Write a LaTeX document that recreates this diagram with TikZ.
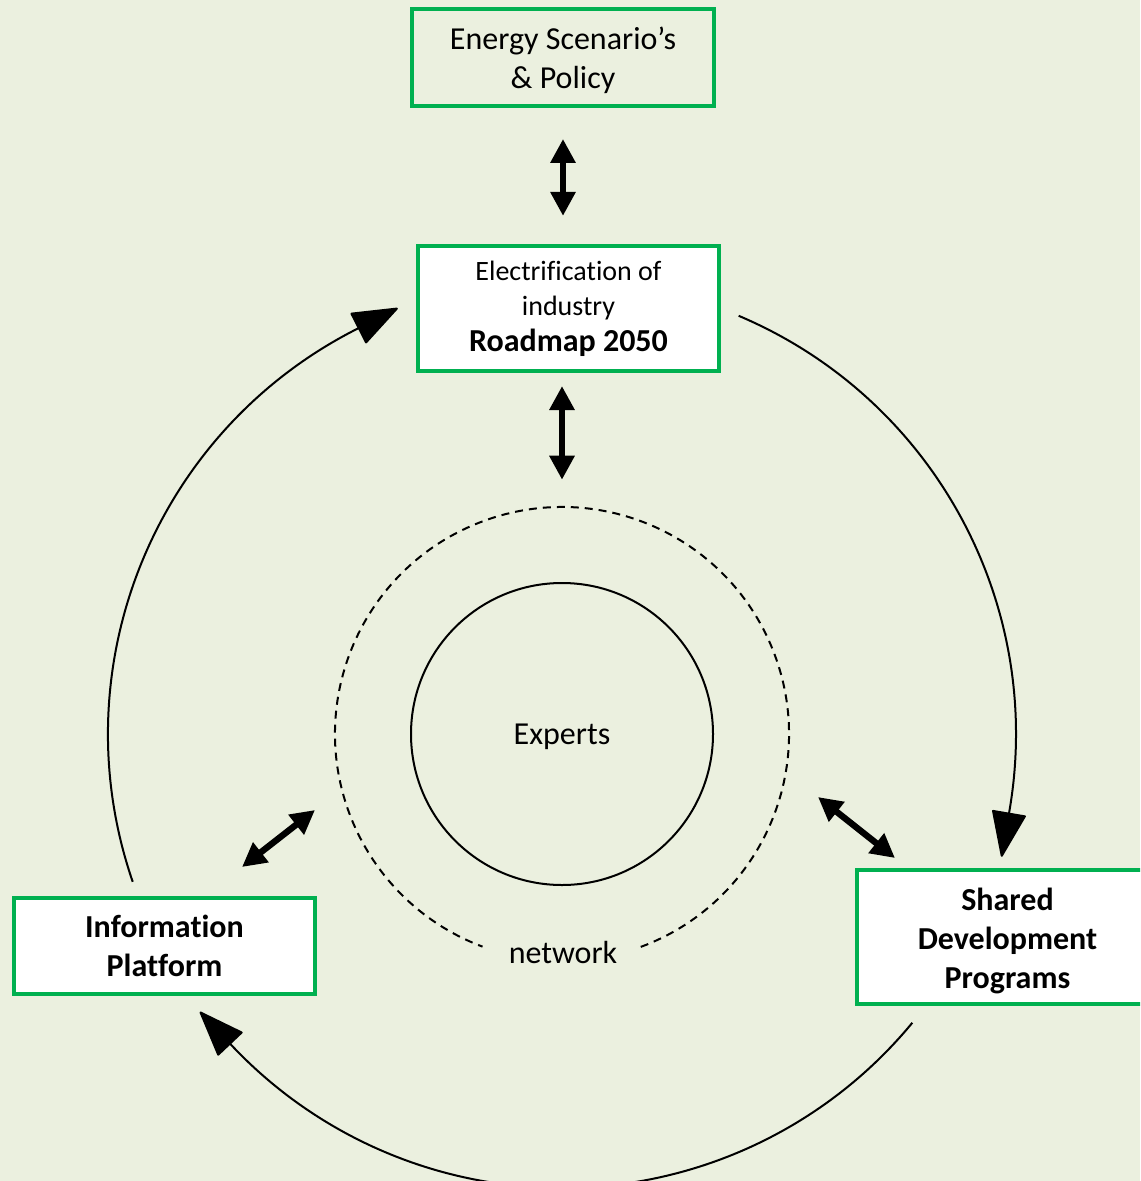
\documentclass[tikz,border=0pt]{standalone}
\usepackage{fontspec}
\setmainfont{Carlito}[Ligatures={NoCommon}]
\usetikzlibrary{arrows.meta}
\definecolor{bg}{HTML}{EBF0DF}
\definecolor{grn}{HTML}{00B050}
\begin{document}
\begin{tikzpicture}[x=0.75pt,y=0.75pt,
  every node/.style={font=\fontsize{24}{29.25}\selectfont, align=center, inner sep=0pt},
  box/.style={draw=grn, line width=3pt, minimum width=226pt},
  bigtip/.style={-{Triangle[length=35pt,width=26pt,round]}},
  cyc/.style={line width=1.5pt, bigtip},
  dbl/.style={line width=4.8pt, {Triangle[length=18pt,width=18pt]}-{Triangle[length=18pt,width=18pt]}},
  netline/.style={line width=1.5pt, dash pattern=on 6pt off 4.5pt}
]
\path[use as bounding box, fill=bg] (0,0) rectangle (1140,-1181);
\clip (0,0) rectangle (1140,-1181);

% boxes
\node[box, minimum height=72pt,
  label={[yshift=-1.9pt]center:{Energy Scenario’s\\\& Policy}}] (energy) at (563,-57.5) {};
\node[box, fill=white, minimum height=93.5pt, font=\fontsize{21}{26}\selectfont] (roadmap) at (568.5,-308.5)
  {Electrification of\\industry\\[1pt]{\fontsize{24}{27}\selectfont\bfseries Roadmap 2050}};
\node[box, fill=white, minimum height=72pt, font=\fontsize{24}{29.25}\selectfont\bfseries] (info) at (164.5,-946) {Information\\Platform};
\node[box, fill=white, minimum height=100.5pt,
  label={[yshift=-3pt, font=\fontsize{24}{29.25}\selectfont\bfseries]center:{Shared\\Development\\Programs}}] (shared) at (1007.5,-937) {};

% centre circles
\coordinate (c) at (562,-734);
\node[circle, draw, line width=1.5pt, minimum size=226.5pt,
  label={[yshift=-2.2pt]center:Experts}] (experts) at (c) {};
\node[circle, minimum size=340.5pt] (net) at (c) {};
\draw[netline] (c) ++(-69.7:227) arc[start angle=-69.7, end angle=249.5, radius=227];
\node (netlabel) at (563,-952) {network};

% cycle arcs (clockwise), tip aligned with the tangent at its point
\draw[cyc] (c) ++(67.1:454) arc[start angle=67.1, end angle=-9.7, radius=454] -- ++(-99.7:47);
\draw[cyc] (c) ++(-39.5:454) arc[start angle=-39.5, end angle=-136.6, radius=454] -- ++(-226.6:47);
\draw[cyc] (c) ++(199:454) arc[start angle=199, end angle=117, radius=454] -- ++(27:47);

% double arrows
\draw[dbl] ([yshift=-23.6pt]energy.south) -- ([yshift=21.2pt]energy.south |- roadmap.north);
\draw[dbl] ([yshift=-9.9pt]roadmap.south -| net.north) -- ([yshift=20.25pt]net.north);
\coordinate (l1) at (242,-867);
\coordinate (l2) at (315,-810);
\draw[dbl] (l1) -- (l2);
\coordinate (r1) at (818,-797);
\coordinate (r2) at (895,-858);
\draw[dbl] (r1) -- (r2);
\end{tikzpicture}
\end{document}
